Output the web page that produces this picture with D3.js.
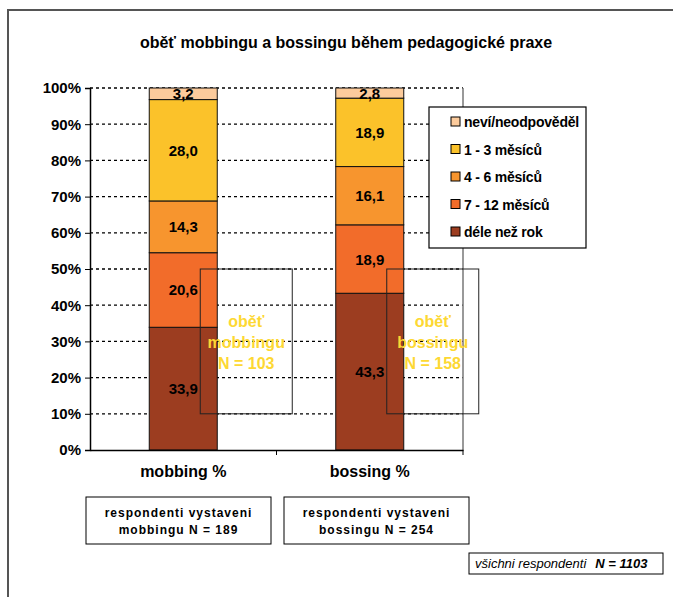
<!DOCTYPE html>
<html>
<head>
<meta charset="utf-8">
<script src="https://cdn.jsdelivr.net/npm/d3@7"></script>
<style>
  body { margin: 0; background: #fff; }
  svg text { font-family: "Liberation Sans", Arial, sans-serif; }
</style>
</head>
<body>
<div id="page"></div>
<script>
(function () {

  "use strict";

  // data
  var categories = [ "mobbing %", "bossing %" ];
  var seriesNames = [ "déle než rok", "7 - 12 měsíců", "4 - 6 měsíců", "1 - 3 měsíců", "neví/neodpověděl" ];
  var seriesColors = [ "#9c3d20", "#f26c2a", "#f7952e", "#fbc22a", "#fccb9c" ];
  var mobbingValues = [ 33.9, 20.6, 14.3, 28.0, 3.2 ];
  var bossingValues = [ 43.3, 18.9, 16.1, 18.9, 2.8 ];
  var yTicks = [ 0, 10, 20, 30, 40, 50, 60, 70, 80, 90, 100 ];
  var victimNotes = [ [ "oběť", "mobbingu", "N = 103" ], [ "oběť", "bossingu", "N = 158" ] ];
  var exposedNotes = [ [ "respondenti vystaveni", "mobbingu N = 189" ], [ "respondenti vystaveni", "bossingu N = 254" ] ];

  /* * * * * * * * * * * * * * * * * * * */

  var W = 673, H = 597;
  var plot = { left: 90, right: 463, top: 88, bottom: 450 };

  var svg = d3.select( "#page" ).append( "svg" )
    .attr( "width", W )
    .attr( "height", H );

  // outer frame
  svg.append( "rect" )
    .attr( "x", 8 ).attr( "y", 10 )
    .attr( "width", W + 20 ).attr( "height", H + 20 )
    .attr( "fill", "none" )
    .attr( "stroke", "#555" )
    .attr( "stroke-width", 2 );

  svg.append( "text" )
    .attr( "x", 346 ).attr( "y", 48 )
    .attr( "text-anchor", "middle" )
    .attr( "font-size", 16 ).attr( "font-weight", "bold" )
    .text( "oběť mobbingu a bossingu během pedagogické praxe" );

  var x = d3.scaleBand()
    .domain( categories )
    .range( [ plot.left, plot.right ] )
    .paddingInner( 0 )
    .paddingOuter( 0 );

  var barW = 68;

  var y = d3.scaleLinear()
    .domain( [ 0, 100 ] )
    .range( [ plot.bottom, plot.top ] );

  /* * * * * * * * * * * * * * * * * * * */

  // gridlines
  svg.append( "g" )
    .selectAll( "line" )
    .data( yTicks.filter( function ( t ) { return t > 0; } ) )
    .enter().append( "line" )
    .attr( "x1", plot.left ).attr( "x2", plot.right )
    .attr( "y1", function ( t ) { return y( t ); } )
    .attr( "y2", function ( t ) { return y( t ); } )
    .attr( "stroke", "#000" )
    .attr( "stroke-width", 1.3 )
    .attr( "stroke-dasharray", "3,3" );

  // plot area right border
  svg.append( "line" )
    .attr( "x1", plot.right ).attr( "x2", plot.right )
    .attr( "y1", plot.top ).attr( "y2", plot.bottom )
    .attr( "stroke", "#777" ).attr( "stroke-width", 1.5 );

  var rows = categories.map( function ( c, i ) {
    var vals = i === 0 ? mobbingValues : bossingValues;
    var r = { cat: c };
    seriesNames.forEach( function ( s, j ) { r[ s ] = vals[ j ]; } );
    return r;
  } );

  var stack = d3.stack().keys( seriesNames );
  var layers = stack( rows );

  var layer = svg.append( "g" )
    .selectAll( "g" )
    .data( layers )
    .enter().append( "g" )
    .attr( "fill", function ( d, i ) { return seriesColors[ i ]; } );

  layer.selectAll( "rect" )
    .data( function ( d ) { return d; } )
    .enter().append( "rect" )
    .attr( "x", function ( d ) { return x( d.data.cat ) + x.bandwidth() / 2 - barW / 2; } )
    .attr( "y", function ( d ) { return y( d[ 1 ] ); } )
    .attr( "width", barW )
    .attr( "height", function ( d ) { return y( d[ 0 ] ) - y( d[ 1 ] ); } )
    .attr( "stroke", "#111" )
    .attr( "stroke-width", 1 );

  layer.selectAll( "text" )
    .data( function ( d ) { return d; } )
    .enter().append( "text" )
    .attr( "x", function ( d ) { return x( d.data.cat ) + x.bandwidth() / 2; } )
    .attr( "y", function ( d ) { return ( y( d[ 0 ] ) + y( d[ 1 ] ) ) / 2 + 5.5; } )
    .attr( "text-anchor", "middle" )
    .attr( "font-size", 15 ).attr( "font-weight", "bold" )
    .attr( "fill", "#000" )
    .text( function ( d ) { return d3.format( ".1f" )( d[ 1 ] - d[ 0 ] ).replace( ".", "," ); } );

  /* * * * * * * * * * * * * * * * * * * */

  // axes
  var yAxis = d3.axisLeft( y )
    .tickValues( yTicks )
    .tickSize( 5 )
    .tickFormat( function ( t ) { return t + "%"; } );

  var gy = svg.append( "g" )
    .attr( "transform", "translate(" + plot.left + ",0)" )
    .call( yAxis );
  gy.select( ".domain" ).attr( "stroke", "#000" ).attr( "stroke-width", 1.5 );
  gy.selectAll( ".tick line" ).attr( "stroke", "#000" );
  gy.selectAll( ".tick text" )
    .attr( "x", -9 )
    .attr( "font-size", 15 ).attr( "font-weight", "bold" )
    .attr( "font-family", "Liberation Sans, Arial, sans-serif" )
    .attr( "fill", "#000" );

  var xAxis = d3.axisBottom( x ).tickSize( 0 ).tickPadding( 16 );
  var gx = svg.append( "g" )
    .attr( "transform", "translate(0," + plot.bottom + ")" )
    .call( xAxis );
  gx.select( ".domain" ).attr( "stroke", "#000" ).attr( "stroke-width", 1.5 );
  gx.selectAll( ".tick text" )
    .attr( "font-size", 16 ).attr( "font-weight", "bold" )
    .attr( "font-family", "Liberation Sans, Arial, sans-serif" )
    .attr( "fill", "#000" );

  // category separators
  svg.append( "g" )
    .selectAll( "line" )
    .data( [ plot.left + x.bandwidth(), plot.right ] )
    .enter().append( "line" )
    .attr( "x1", function ( d ) { return d; } ).attr( "x2", function ( d ) { return d; } )
    .attr( "y1", plot.bottom ).attr( "y2", plot.bottom + 5 )
    .attr( "stroke", "#000" );

  /* * * * * * * * * * * * * * * * * * * */

  // legend
  var lg = svg.append( "g" ).attr( "transform", "translate(429,107)" );
  lg.append( "rect" )
    .attr( "width", 157 ).attr( "height", 141 )
    .attr( "fill", "#fff" ).attr( "stroke", "#000" ).attr( "stroke-width", 1.2 );

  var legendOrder = seriesNames.slice().reverse();
  var legendColors = seriesColors.slice().reverse();

  var li = lg.selectAll( "g.item" )
    .data( legendOrder )
    .enter().append( "g" )
    .attr( "class", "item" )
    .attr( "transform", function ( d, i ) { return "translate(0," + ( 15 + i * 27.5 ) + ")"; } );

  li.append( "rect" )
    .attr( "x", 22 ).attr( "y", -5 )
    .attr( "width", 9 ).attr( "height", 9 )
    .attr( "fill", function ( d, i ) { return legendColors[ i ]; } )
    .attr( "stroke", "#000" );

  li.append( "text" )
    .attr( "x", 35 ).attr( "y", 5 )
    .attr( "font-size", 14 ).attr( "font-weight", "bold" )
    .attr( "letter-spacing", -0.2 )
    .text( function ( d ) { return d; } );

  /* * * * * * * * * * * * * * * * * * * */

  // victim boxes over the bars
  var vb = svg.append( "g" )
    .selectAll( "g" )
    .data( victimNotes )
    .enter().append( "g" )
    .attr( "transform", function ( d, i ) {
      return "translate(" + ( x( categories[ i ] ) + x.bandwidth() / 2 + 17 ) + "," + y( 50 ) + ")";
    } );

  vb.append( "rect" )
    .attr( "width", 92 ).attr( "height", y( 10 ) - y( 50 ) )
    .attr( "fill", "none" ).attr( "stroke", "#222" ).attr( "stroke-width", 1 );

  vb.selectAll( "text" )
    .data( function ( d ) { return d; } )
    .enter().append( "text" )
    .attr( "x", 46 )
    .attr( "y", function ( d, i ) { return 58 + i * 21; } )
    .attr( "text-anchor", "middle" )
    .attr( "font-size", 16 ).attr( "font-weight", "bold" )
    .attr( "fill", "#fdd833" )
    .text( function ( d ) { return d; } );

  // exposed respondents boxes
  var eb = svg.append( "g" )
    .selectAll( "g" )
    .data( exposedNotes )
    .enter().append( "g" )
    .attr( "transform", function ( d, i ) { return "translate(" + ( i === 0 ? 86 : 284 ) + ",497)"; } );

  eb.append( "rect" )
    .attr( "width", 185 ).attr( "height", 47 )
    .attr( "fill", "#fff" ).attr( "stroke", "#000" ).attr( "stroke-width", 1 );

  eb.selectAll( "text" )
    .data( function ( d ) { return d; } )
    .enter().append( "text" )
    .attr( "x", 92.5 )
    .attr( "y", function ( d, i ) { return 20 + i * 17; } )
    .attr( "text-anchor", "middle" )
    .attr( "font-size", 12 ).attr( "font-weight", "bold" )
    .attr( "letter-spacing", 1 )
    .text( function ( d ) { return d; } );

  // all respondents box
  var ab = svg.append( "g" ).attr( "transform", "translate(469,553)" );
  ab.append( "rect" )
    .attr( "width", 194 ).attr( "height", 21 )
    .attr( "fill", "#fff" ).attr( "stroke", "#000" ).attr( "stroke-width", 1 );
  var at = ab.append( "text" )
    .attr( "x", 6 ).attr( "y", 15 )
    .attr( "font-size", 13 ).attr( "font-style", "italic" );
  at.append( "tspan" ).text( "všichni respondenti" );
  at.append( "tspan" ).attr( "dx", 9 ).attr( "font-weight", "bold" ).text( "N = 1103" );

})();
</script>
</body>
</html>
